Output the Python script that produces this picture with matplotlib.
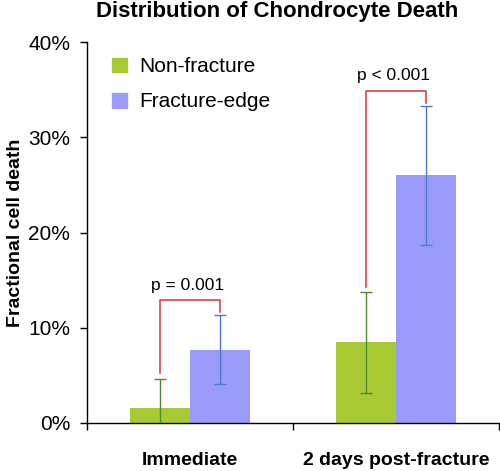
import matplotlib
matplotlib.use("Agg")
import matplotlib.pyplot as plt
import numpy as np
from matplotlib.patches import Patch
from matplotlib.ticker import FixedLocator, PercentFormatter

# ---------------------------------------------------------------------------
# Data (fractions of cells)
# ---------------------------------------------------------------------------
categories   = ["Immediate", "2 days post-fracture"]
series_names = ["Non-fracture", "Fracture-edge"]
non_fracture     = [0.016, 0.085]
non_fracture_err = [0.030, 0.053]
fracture_edge     = [0.077, 0.260]
fracture_edge_err = [0.036, 0.073]

# significance brackets: (left leg start, top, right leg end)
bracket_left  = [0.052, 0.143]
bracket_top   = [0.129, 0.349]
bracket_right = [0.117, 0.336]
p_labels = ["p = 0.001", "p < 0.001"]

GREEN      = "#A9C934"
BLUE       = "#9A9AF9"
GREEN_ERR  = "#4E8A2E"
BLUE_ERR   = "#4F78D0"
RED        = "#D0343A"
BAR_W      = 0.29

plt.rcParams["font.family"] = ["Liberation Sans", "DejaVu Sans"]

fig = plt.figure(figsize=(5.0, 4.71), dpi=100)
ax = fig.add_axes([87 / 500, 48 / 471, 412 / 500, 381 / 471])

centers = np.arange(len(categories)) + 0.5
x_green = centers - BAR_W / 2
x_blue  = centers + BAR_W / 2

ax.bar(x_green, non_fracture, width=BAR_W, color=GREEN, zorder=2)
ax.bar(x_blue, fracture_edge, width=BAR_W, color=BLUE, zorder=2)
ax.errorbar(x_green, non_fracture, yerr=non_fracture_err, fmt="none",
            ecolor=GREEN_ERR, elinewidth=1.0, capsize=4.5, capthick=1.0, zorder=3)
ax.errorbar(x_blue, fracture_edge, yerr=fracture_edge_err, fmt="none",
            ecolor=BLUE_ERR, elinewidth=1.0, capsize=4.5, capthick=1.0, zorder=3)

# ── significance brackets ──
for i in range(len(categories)):
    ax.plot([x_green[i], x_green[i], x_blue[i], x_blue[i]],
            [bracket_left[i], bracket_top[i], bracket_top[i], bracket_right[i]],
            color=RED, lw=1.1, zorder=4)
    ax.text(centers[i] - 0.01, bracket_top[i] + 0.008, p_labels[i],
            ha="center", va="bottom", fontsize=12.5)

# ── axes styling ──
ax.set_xlim(0, 2)
ax.set_ylim(0, 0.4)
ax.set_yticks([0, 0.1, 0.2, 0.3, 0.4])
ax.yaxis.set_major_formatter(PercentFormatter(1.0, decimals=0))
ax.tick_params(axis="y", direction="out", length=5, width=1, labelsize=15, pad=7)

ax.xaxis.set_major_locator(FixedLocator([0, 1, 2]))
ax.xaxis.set_minor_locator(FixedLocator(centers))
ax.set_xticklabels([])
ax.set_xticklabels(categories, minor=True, fontweight="bold", fontsize=14)
ax.tick_params(axis="x", which="major", direction="out", length=5, width=1)
ax.tick_params(axis="x", which="minor", length=0, pad=21)

for side in ["top", "right"]:
    ax.spines[side].set_visible(False)
for side in ["left", "bottom"]:
    ax.spines[side].set_linewidth(1)

ax.set_ylabel("Fractional cell death", fontsize=14, fontweight="bold", labelpad=3)
fig.text(0.554, 0.975, "Distribution of Chondrocyte Death",
         ha="center", va="center", fontsize=16, fontweight="bold")

handles = [Patch(color=GREEN), Patch(color=BLUE)]
ax.legend(handles, series_names, loc="upper left", bbox_to_anchor=(0.06, 0.96),
          frameon=False, fontsize=15, handlelength=0.75, handleheight=0.72,
          handletextpad=0.55, labelspacing=0.78, borderpad=0, borderaxespad=0)

fig.savefig("out.png", dpi=100)
